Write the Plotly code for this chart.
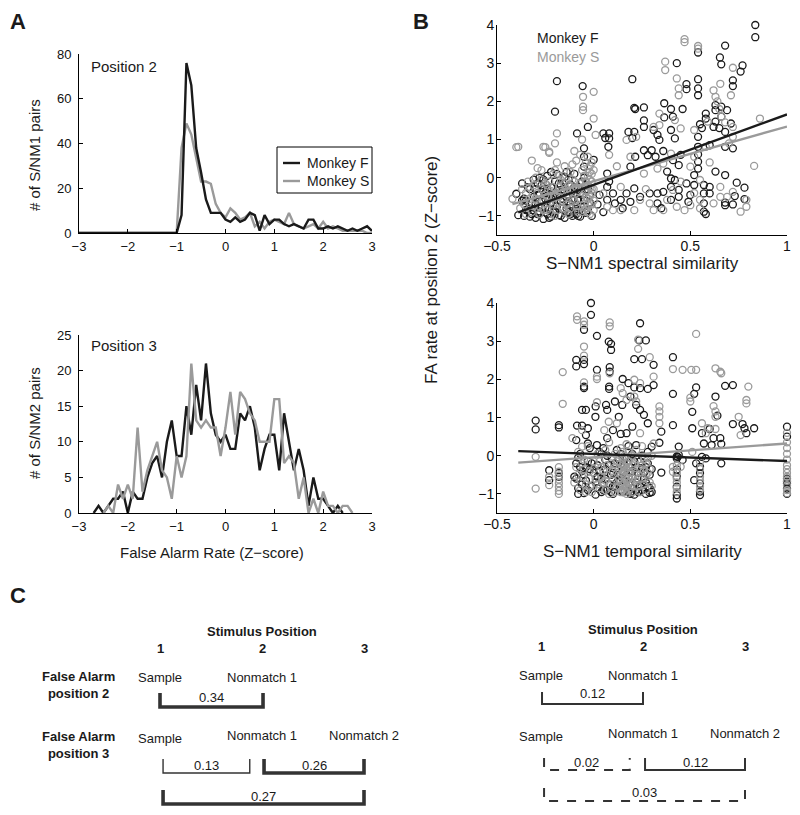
import plotly.graph_objects as go

W, H = 800, 815
FONT = "Liberation Sans, Arial, Helvetica, sans-serif"
BLACK = "#1a1a1a"
GRAY = "#9a9a9a"


def px(x):
    return x / W


def py(y):
    return 1 - y / H


# ---------------- Panel A : histograms of false-alarm rate ----------------
bins = [-3.0, -2.9, -2.8, -2.7, -2.6, -2.5, -2.4, -2.3, -2.2, -2.1,
        -2.0, -1.9, -1.8, -1.7, -1.6, -1.5, -1.4, -1.3, -1.2, -1.1,
        -1.0, -0.9, -0.8, -0.7, -0.6, -0.5, -0.4, -0.3, -0.2, -0.1,
        0.0, 0.1, 0.2, 0.3, 0.4, 0.5, 0.6, 0.7, 0.8, 0.9,
        1.0, 1.1, 1.2, 1.3, 1.4, 1.5, 1.6, 1.7, 1.8, 1.9,
        2.0, 2.1, 2.2, 2.3, 2.4, 2.5, 2.6, 2.7, 2.8, 2.9, 3.0]

pos2_F = [0, 0, 0, 0, 0, 0, 0, 0, 0, 0,
          0, 0, 0, 0, 0, 0, 0, 0, 0, 0,
          0, 8, 76, 66, 38, 27, 15, 9, 9, 9,
          6, 5, 7, 5, 6, 9, 8, 1, 8, 4,
          6, 6, 4, 3, 4, 3, 2, 6, 6, 2,
          2, 3, 2, 3, 2, 1, 2, 1, 2, 3, 1]
pos2_S = [0, 0, 0, 0, 0, 0, 0, 0, 0, 0,
          0, 0, 0, 0, 0, 0, 0, 0, 0, 0,
          0, 38, 49, 44, 33, 23, 23, 22, 13, 9,
          7, 11, 9, 6, 7, 9, 3, 5, 2, 5,
          6, 5, 4, 9, 4, 3, 2, 3, 4, 2,
          5, 2, 3, 2, 1, 1, 1, 1, 1, 0, 0]
pos3_F = [0, 0, 0, 0, 1, 0, 1, 2, 2, 3,
          0, 3, 2, 2, 5, 7, 8, 5, 10, 13,
          8, 8, 15, 11, 18, 13, 21, 14, 11, 10,
          11, 9, 9, 14, 13, 15, 12, 6, 9, 11,
          11, 6, 14, 10, 6, 9, 6, 1, 5, 2,
          2, 1, 0, 1, 0, 0, 0, 0, 0, 0, 0]
pos3_S = [0, 0, 0, 0, 0, 0, 1, 0, 4, 2,
          4, 2, 12, 3, 6, 8, 10, 6, 5, 2,
          8, 5, 8, 21, 13, 12, 13, 12, 12, 8,
          12, 17, 11, 17, 16, 14, 13, 10, 10, 10,
          16, 16, 7, 8, 7, 2, 5, 0, 2, 0,
          3, 1, 1, 0, 1, 1, 0, 0, 0, 0, 0]

# ---------------- Panel B : scatter data (x similarity, FA z-score) ----------------
spec_F = [
    (-0.40, -0.42), (-0.39, -0.98), (-0.37, -0.15), (-0.36, -1.00), (-0.35, -0.60), (-0.34, -0.82),
    (-0.33, -0.30), (-0.32, -0.95), (-0.31, -0.05), (-0.30, -0.70), (-0.30, -1.05), (-0.29, -0.45),
    (-0.28, 0.00), (-0.28, -0.88), (-0.27, -0.20), (-0.27, -0.62), (-0.26, -1.08), (-0.25, -0.40),
    (-0.25, -0.78), (-0.24, 0.05), (-0.24, -0.95), (-0.23, -0.55), (-0.22, -0.25), (-0.22, -1.02),
    (-0.21, -0.70), (-0.20, -0.10), (-0.20, -0.88), (-0.19, 0.10), (-0.19, -0.45), (-0.18, -0.98),
    (-0.17, -0.62), (-0.16, -0.30), (-0.16, -0.80), (-0.15, 0.02), (-0.15, -1.05), (-0.14, -0.50),
    (-0.13, -0.90), (-0.12, -0.18), (-0.12, -0.70), (-0.11, -1.00), (-0.10, -0.40), (-0.10, 0.10),
    (-0.09, -0.82), (-0.08, -0.60), (-0.08, -0.25), (-0.07, -1.02), (-0.06, -0.45), (-0.05, 0.00),
    (-0.05, -0.75), (-0.04, -0.92), (-0.03, -0.30), (-0.02, -0.65), (-0.01, -1.00), (-0.26, -0.32),
    (-0.21, -0.50), (-0.17, -0.20), (-0.13, -0.62), (-0.09, -0.95), (-0.31, -0.85), (-0.23, -0.82),
    (-0.36, -0.55), (-0.34, -0.25), (-0.33, -1.02), (-0.31, -0.50), (-0.29, -0.15), (-0.29, -0.95),
    (-0.27, -0.78), (-0.26, -0.05), (-0.25, -0.55), (-0.24, -0.30), (-0.23, -1.05), (-0.22, -0.65),
    (-0.21, -0.90), (-0.20, -0.40), (-0.19, -0.75), (-0.18, -0.15), (-0.17, -1.00), (-0.16, -0.55),
    (-0.15, -0.35), (-0.14, -0.80), (-0.13, -0.05), (-0.12, -0.95), (-0.11, -0.60), (-0.10, -0.25),
    (-0.09, -0.70), (-0.08, -1.00), (-0.07, -0.40), (-0.06, -0.10), (-0.05, -0.60), (-0.04, -0.20),
    (-0.03, -0.85), (-0.02, -0.45), (-0.28, -0.45), (-0.30, -0.30), (-0.32, -0.65), (-0.35, -0.85),
    (-0.37, -0.60), (-0.14, 0.15), (-0.22, 0.15), (-0.11, -0.35),
    (0.836, 4.00), (0.836, 3.68), (-0.19, 2.53), (-0.057, 2.40), (0.20, 2.58), (0.43, 3.00),
    (0.54, 3.28), (0.54, 2.58), (0.54, 2.34), (0.54, 2.16), (0.653, 3.15), (0.68, 3.46),
    (0.66, 2.97), (0.72, 2.55), (0.72, 2.40), (0.77, 2.94), (0.76, 2.78), (0.48, 2.45),
    (0.48, 2.32), (-0.20, 1.73), (0.215, 1.80), (0.26, 1.84), (0.26, 1.50), (0.26, 1.33),
    (0.365, 1.58), (0.365, 1.95), (0.40, 1.80), (0.41, 1.60), (0.46, 1.80), (0.21, 1.20),
    (0.08, 1.16), (0.08, 1.03), (0.05, 1.16), (0.076, 0.81), (-0.086, 1.16), (-0.03, 1.33),
    (0.31, 1.25), (0.33, 1.12), (0.34, 0.99), (0.40, 1.25), (0.42, 1.03), (0.54, 1.07),
    (0.54, 0.81), (0.54, 0.61), (0.54, 0.42), (0.54, 0.24), (0.58, 1.68), (0.58, 1.55),
    (0.62, 1.33), (0.63, 1.47), (0.63, 1.77), (0.66, 1.86), (0.66, 1.60), (0.69, 1.77),
    (0.71, 1.42), (0.68, 0.81), (0.72, 0.77), (-0.05, 0.77), (-0.05, 0.55), (-0.05, 0.29),
    (0.63, 0.16), (0.68, 0.07), (0.74, -0.13), (0.78, -0.26), (0.78, -0.56), (0.73, -0.48),
    (0.68, -0.65), (0.68, -0.72), (0.60, -0.24), (0.60, -0.41), (0.57, -0.19), (0.57, -0.41),
    (0.57, -0.67), (0.57, -0.89), (0.52, -0.19), (0.52, 0.07), (0.48, -0.15), (0.50, -0.45),
    (0.49, -0.63), (0.44, 0.33), (0.41, 0.46), (0.38, 0.16), (0.40, -0.02), (0.42, -0.06),
    (0.40, -0.24), (0.44, -0.32), (0.44, -0.50), (0.40, -0.58), (0.36, -0.37), (0.33, -0.41),
    (0.33, -0.67), (0.29, -0.41), (0.30, 0.72), (0.28, 0.59), (0.26, 0.72), (0.32, 0.55),
    (0.215, 0.55), (0.19, 0.29), (0.21, -0.28), (0.17, -0.41), (0.14, -0.58), (0.19, -0.63),
    (0.07, 0.11), (0.07, -0.24), (0.08, -0.10), (0.03, -0.45), (0.07, -0.58), (0.11, -0.67),
    (0.10, -0.41), (0.06, 1.04), (0.20, 1.04), (0.18, 1.20), (0.21, 1.83), (0.00, 0.47),
    (0.36, 0.70), (0.45, 0.60), (0.60, 0.85), (0.58, -0.95), (0.72, -0.70), (0.35, -0.80),
    (0.24, -0.50), (0.15, -0.80), (0.05, -0.90), (0.02, -0.70), (0.55, 1.40), (0.56, 1.30),
    (0.63, 1.90), (0.65, 1.30), (0.68, 1.20),
]
spec_S = [
    (-0.42, -0.55), (-0.40, 0.80), (-0.38, -0.80), (-0.37, -0.30), (-0.35, -0.95), (-0.34, -0.10),
    (-0.33, -0.55), (-0.32, 0.45), (-0.31, -0.75), (-0.30, 0.00), (-0.29, -0.40), (-0.28, -0.95),
    (-0.27, 0.20), (-0.26, -0.60), (-0.25, 0.80), (-0.25, -0.15), (-0.24, -0.85), (-0.23, 0.65),
    (-0.22, -0.35), (-0.21, 0.10), (-0.21, -0.70), (-0.20, -1.00), (-0.19, 0.40), (-0.18, -0.50),
    (-0.17, -0.05), (-0.16, -0.80), (-0.15, 0.30), (-0.14, -0.30), (-0.13, -0.95), (-0.12, 0.15),
    (-0.11, -0.55), (-0.10, -0.10), (-0.09, 0.45), (-0.09, -0.75), (-0.08, -0.35), (-0.07, 0.60),
    (-0.06, -0.90), (-0.05, 0.05), (-0.04, -0.50), (-0.03, -0.70), (-0.03, -0.20), (-0.02, 0.30),
    (-0.02, -0.95), (-0.01, -0.40), (-0.01, 0.10), (0.00, -0.60), (0.00, -0.85), (-0.03, 0.55),
    (-0.02, -0.05), (-0.01, -0.30), (-0.04, -0.80), (-0.27, -0.30), (-0.23, -0.10), (-0.19, -0.65),
    (-0.16, 0.05), (-0.13, -0.20), (-0.29, 0.25), (-0.33, -0.25), (-0.11, 0.35), (-0.07, -0.15),
    (-0.36, -0.70), (-0.35, -0.40), (-0.32, -0.90), (-0.31, -0.20), (-0.30, -0.55), (-0.28, -0.75),
    (-0.27, -0.05), (-0.26, -0.85), (-0.25, -0.45), (-0.24, -0.20), (-0.23, -0.65), (-0.22, -0.95),
    (-0.21, -0.25), (-0.20, -0.50), (-0.19, -0.85), (-0.18, 0.05), (-0.17, -0.35), (-0.16, -0.60),
    (-0.15, -0.15), (-0.14, -0.70), (-0.13, -0.45), (-0.12, -0.80), (-0.11, -0.05), (-0.10, -0.60),
    (-0.09, -0.25), (-0.08, -0.90), (-0.07, -0.55), (-0.06, 0.20), (-0.06, -0.30), (-0.05, -0.70),
    (-0.04, -0.10), (-0.04, 0.40), (-0.03, -0.55), (-0.03, -0.90), (-0.02, -0.25), (-0.02, 0.15),
    (-0.01, -0.70), (-0.01, -0.10), (0.00, -0.30), (0.00, 0.20), (-0.03, 0.05), (-0.02, -0.50),
    (-0.01, 0.40), (-0.04, -0.35), (-0.05, -0.85), (-0.12, -0.35), (-0.18, -0.25), (-0.24, -0.50),
    (-0.20, 0.20), (-0.15, -0.90),
    (0.47, 3.63), (0.47, 3.55), (0.54, 3.45), (0.54, 3.38), (0.37, 3.04), (0.37, 2.82),
    (0.43, 2.60), (0.44, 2.34), (0.44, 2.16), (-0.055, 2.12), (0.00, 2.25), (-0.055, 1.86),
    (-0.055, 1.77), (0.62, 2.29), (0.63, 2.12), (0.655, 2.46), (0.71, 2.16), (0.72, 2.88),
    (0.64, 2.00), (0.65, 1.80), (-0.19, 1.16), (-0.20, 0.90), (-0.26, 0.81), (-0.23, 0.68),
    (-0.39, 0.81), (0.00, 1.55), (0.01, 1.12), (0.34, 1.68), (0.34, 1.38), (0.31, 1.33),
    (0.42, 1.51), (0.45, 1.29), (0.52, 1.25), (0.58, 0.81), (0.59, 1.47), (0.72, 1.33),
    (0.72, 1.07), (0.86, 1.55), (0.83, 0.31), (0.55, -0.06), (0.55, -0.58), (0.55, -0.80),
    (0.50, -0.72), (0.47, -0.85), (0.52, -0.40), (0.655, -0.50), (0.69, -0.50), (0.72, -0.37),
    (0.79, -0.76), (0.76, -0.89), (0.79, -0.58), (0.655, -0.24), (0.62, -0.67), (0.31, -0.85),
    (0.29, -0.67), (0.24, -0.58), (0.21, -0.85), (0.14, -0.85), (0.10, -0.85), (0.07, -0.76),
    (0.05, -0.41), (0.14, -0.24), (0.19, 0.55), (0.22, 1.07), (0.17, 0.99), (0.26, 0.11),
    (0.33, 0.24), (0.36, 0.37), (0.40, 0.63), (0.41, -0.32), (0.38, -0.58), (0.43, -0.76),
    (0.36, -0.85), (0.50, 0.29), (0.52, 0.55), (0.08, 0.60), (0.12, 0.30), (0.27, -0.30),
    (0.45, -0.10), (0.60, 0.40), (0.66, 1.60), (0.68, 1.45), (0.70, 0.90), (-0.06, 1.00),
    (-0.10, 0.70),
]
temp_F = [
    (-0.30, 0.92), (-0.30, 0.69), (-0.23, -0.38), (-0.23, -0.64), (-0.18, 0.80), (-0.18, 0.74),
    (-0.18, -0.45), (-0.18, -0.55),
    (-0.014, 4.00), (-0.014, 3.69), (-0.05, 3.30), (0.017, 3.14), (0.078, 2.99), (0.09, 2.93),
    (0.09, 2.77), (0.24, 3.47), (0.27, 3.02), (0.236, 3.02), (0.25, 2.53), (0.21, 2.53),
    (0.31, 2.38), (-0.09, 2.51), (-0.09, 2.34), (-0.05, 2.51), (-0.05, 2.40), (0.017, 2.25),
    (0.083, 2.32), (0.083, 2.20), (0.41, 2.58), (-0.05, 1.81), (-0.05, 1.77), (0.08, 1.81),
    (0.08, 1.75), (0.15, 2.01), (0.18, 1.90), (0.21, 1.79), (0.24, 1.77), (0.28, 1.75),
    (0.31, 1.85), (0.53, 1.79), (0.52, 1.62), (0.41, 1.62), (0.63, 1.55), (0.68, 1.83),
    (0.72, 1.85), (-0.04, 1.20), (-0.06, 1.20), (0.01, 1.29), (0.009, 1.02), (0.064, 1.33),
    (0.11, 1.42), (0.148, 1.33), (0.19, 1.55), (0.22, 1.33), (0.24, 1.20), (0.26, 1.07),
    (0.28, 0.85), (0.13, 1.02), (0.07, 1.20), (0.64, 1.05), (0.60, 0.70), (0.41, 0.80),
    (0.51, 1.15), (0.51, 0.72), (-0.086, 0.79), (-0.06, 0.79), (-0.03, 0.72), (-0.04, 0.54),
    (-0.09, 0.41), (-0.03, 0.32), (0.017, 0.28), (0.07, 0.46), (0.10, 0.67), (0.14, 0.57),
    (0.17, 0.59), (0.20, 0.76), (0.35, 0.63), (0.34, 0.34), (0.30, 0.24), (0.22, 0.28),
    (0.61, 0.28), (0.56, 0.59), (0.57, 0.32), (0.62, 0.46), (0.655, 0.46), (0.66, 0.31),
    (0.77, 0.83), (0.78, 0.72), (0.79, 0.59), (0.83, 0.72), (0.72, 0.83), (0.44, 0.24),
    (0.44, 0.02), (0.43, -0.07), (0.435, -0.03), (0.43, -0.02), (0.46, -0.11), (0.56, -0.03),
    (0.58, -0.07), (0.53, -0.20), (0.66, -0.20), (0.52, -0.64), (0.43, -0.36), (0.43, -0.55),
    (0.43, -0.81), (0.43, -1.03), (0.43, -1.12), (0.55, -0.29), (0.55, -0.46), (0.55, -0.73),
    (0.55, -0.94), (0.55, -1.03), (1.00, 0.76), (1.00, 0.50), (1.00, -0.60), (1.00, -0.73),
    (1.00, -0.86), (1.00, -1.00), (1.00, -0.68), (0.35, -0.44), (-0.08, -1.00), (0.29, -0.97),
    (0.19, -1.00),
    (-0.10, -0.55), (-0.09, -0.20), (-0.08, -0.85), (-0.07, 0.05), (-0.06, -0.40), (-0.05, -0.98),
    (-0.04, -0.65), (-0.03, -0.15), (-0.02, 0.20), (-0.01, -0.80), (0.00, -0.45), (0.01, -1.02),
    (0.02, -0.25), (0.03, 0.10), (0.04, -0.60), (0.05, -0.90), (0.06, -0.35), (0.07, 0.00),
    (0.08, -0.75), (0.09, -0.50), (0.10, -1.00), (0.11, -0.20), (0.12, 0.15), (0.13, -0.65),
    (0.14, -0.90), (0.15, -0.40), (0.16, -0.05), (0.17, -0.80), (0.18, -0.55), (0.19, -0.30),
    (0.20, 0.05), (0.21, -1.02), (0.22, -0.70), (0.23, -0.45), (0.24, -0.15), (0.25, -0.90),
    (0.26, -0.60), (0.27, -0.30), (0.28, 0.10), (0.28, -0.80), (0.29, -0.50), (0.30, -0.95),
    (-0.06, -0.75), (0.02, -0.55), (0.06, -0.10), (0.11, -0.80), (0.16, -0.65), (0.20, -0.85),
    (0.25, -0.35), (0.13, -0.10), (-0.02, -0.35), (0.09, -0.95), (0.18, 0.25), (0.23, -0.95),
    (0.05, 0.20), (-0.08, -0.05),
    (-0.09, -0.60), (-0.07, -0.30), (-0.05, -0.50), (-0.03, -0.90), (-0.01, -0.20), (0.01, -0.70),
    (0.03, -0.40), (0.04, -0.95), (0.06, -0.60), (0.08, -0.25), (0.10, -0.45), (0.12, -0.70),
    (0.13, -0.35), (0.14, 0.05), (0.15, -0.95), (0.16, -0.25), (0.17, -0.50), (0.18, -0.75),
    (0.19, -0.95), (0.20, -0.40), (0.21, -0.15), (0.22, -0.90), (0.23, -0.60), (0.24, -0.80),
    (0.25, 0.00), (0.26, -0.45), (0.27, -0.70), (0.28, -0.20), (0.29, -0.85), (0.30, -0.35),
    (0.12, -0.50), (0.14, -0.25), (0.10, -0.80), (0.02, -0.85), (-0.04, -0.30), (0.07, -0.90),
    (0.27, -1.00), (0.17, -0.05), (0.22, -0.30), (0.04, 0.05),
]
temp_S = [
    (-0.086, 3.65), (-0.086, 3.56), (-0.05, 3.52), (-0.05, 3.43), (0.083, 3.49), (0.083, 3.39),
    (0.23, 3.04), (0.23, 2.80), (0.29, 2.58), (-0.05, 2.86), (-0.05, 2.62), (-0.16, 2.19),
    (0.017, 2.07), (0.017, 2.01), (0.083, 2.16), (0.21, 1.99), (0.24, 1.90), (0.31, 2.07),
    (0.41, 2.27), (0.46, 2.25), (0.505, 2.25), (0.53, 2.25), (0.53, 3.19), (0.63, 2.29),
    (0.655, 2.20), (0.66, 2.16), (0.80, 1.81), (0.79, 1.46), (0.79, 1.37), (-0.16, 1.36),
    (-0.05, 1.92), (0.017, 1.40), (0.14, 1.77), (0.15, 1.64), (0.17, 1.46), (0.21, 1.55),
    (0.22, 1.42), (0.34, 1.29), (0.34, 1.16), (0.34, 1.02), (0.34, 0.85), (0.50, 1.52),
    (0.50, 1.42), (0.62, 1.30), (0.63, 1.16), (0.63, 1.02), (0.63, 0.70), (0.76, 0.54),
    (0.75, 1.02), (0.56, 0.85), (0.59, 0.72), (0.58, 0.59), (0.078, 0.89), (0.055, 0.67),
    (0.12, 0.85), (0.24, 0.59), (0.31, 0.32), (-0.06, 0.67), (-0.06, 0.24), (-0.11, 0.46),
    (0.41, -0.29), (0.41, -0.42), (0.45, -0.29), (0.51, 0.10),
    (-0.30, -0.03), (-0.30, -0.86), (-0.23, -0.77), (-0.23, -0.55), (-0.18, -0.30), (-0.18, -0.42),
    (-0.18, -0.52), (-0.18, -0.62), (-0.18, -0.72), (-0.18, -0.82), (-0.18, -0.92), (-0.18, -1.00),
    (0.43, -0.25), (0.43, -0.45), (0.43, -0.60), (0.43, -0.70), (0.43, -0.85), (0.43, -0.95),
    (0.55, -0.15), (0.55, -0.35), (0.55, -0.55), (0.55, -0.65), (0.55, -0.80), (0.55, -0.90),
    (1.00, 0.60), (1.00, 0.35), (1.00, 0.20), (1.00, 0.05), (1.00, -0.10), (1.00, -0.25),
    (1.00, -0.35), (1.00, -0.45), (1.00, -0.55), (1.00, -0.65), (1.00, -0.78), (1.00, -0.90),
    (1.00, -0.98),
    (-0.10, -0.70), (-0.09, -0.30), (-0.08, 0.10), (-0.07, -0.90), (-0.06, -0.55), (-0.05, -0.10),
    (-0.04, -0.75), (-0.03, 0.25), (-0.02, -0.40), (-0.01, -0.95), (0.00, -0.15), (0.01, -0.60),
    (0.02, 0.05), (0.03, -0.85), (0.04, -0.30), (0.05, -0.70), (0.06, 0.15), (0.07, -0.50),
    (0.08, -1.00), (0.09, -0.20), (0.10, -0.65), (0.11, 0.05), (0.12, -0.85), (0.13, -0.35),
    (0.13, -0.60), (0.14, 0.20), (0.14, -0.95), (0.15, -0.10), (0.15, -0.45), (0.15, -0.75),
    (0.16, 0.00), (0.16, -0.30), (0.16, -0.55), (0.16, -0.85), (0.17, -0.20), (0.17, -0.65),
    (0.17, -1.00), (0.18, 0.10), (0.18, -0.40), (0.18, -0.90), (0.19, -0.70), (0.20, -0.25),
    (0.21, -0.50), (0.22, 0.15), (0.23, -0.80), (0.24, -0.35), (0.25, -0.60), (0.26, -0.10),
    (0.27, -0.90), (0.28, -0.45), (0.29, -0.70), (0.30, 0.00), (-0.05, -0.35), (0.05, -0.40),
    (0.12, -0.15), (0.20, -0.95), (0.25, 0.25), (0.08, 0.35), (-0.02, -0.80), (0.27, -0.20),
    (-0.08, -0.50), (-0.06, -0.20), (-0.04, -0.95), (-0.02, -0.60), (0.00, -0.35), (0.02, -0.75),
    (0.03, -0.15), (0.04, -0.55), (0.06, -0.90), (0.07, -0.25), (0.09, -0.75), (0.10, -0.40),
    (0.11, -0.95), (0.12, -0.45), (0.13, -0.80), (0.13, -0.05), (0.14, -0.50), (0.14, -0.70),
    (0.15, -0.25), (0.15, -0.90), (0.16, -0.40), (0.16, -0.70), (0.17, -0.35), (0.17, -0.80),
    (0.18, -0.15), (0.18, -0.60), (0.19, -0.45), (0.19, -0.85), (0.20, -0.60), (0.21, -0.20),
    (0.21, -0.80), (0.22, -0.45), (0.23, -0.60), (0.24, -0.95), (0.25, -0.25), (0.26, -0.75),
    (0.27, -0.50), (0.28, -0.05), (0.29, -0.35), (0.30, -0.80), (0.26, -0.40), (0.23, -0.10),
    (0.11, -0.30), (0.06, -0.65), (0.15, 0.10), (0.17, 0.30), (0.14, -0.20), (0.16, -0.95),
    (0.18, -0.30), (0.20, 0.00),
]

# regression line end points
spec_fit_F = {"x": [-0.39, 1.0], "y": [-0.91, 1.66]}
spec_fit_S = {"x": [-0.42, 1.0], "y": [-0.69, 1.34]}
temp_fit_F = {"x": [-0.39, 1.0], "y": [0.12, -0.14]}
temp_fit_S = {"x": [-0.39, 1.0], "y": [-0.18, 0.32]}

# ---------------- Panel C : similarity between stimulus positions ----------------
stim_positions = [1, 2, 3]
bracket_pairs = [(1, 2), (1, 2), (2, 3), (1, 3)]
spectral_values = [0.34, 0.13, 0.26, 0.27]
temporal_values = [0.12, 0.02, 0.12, 0.03]

fig = go.Figure()


def add_hist(xs, ys, color, ax, ay, trim):
    if trim:
        nz = [i for i, v in enumerate(ys) if v > 0]
        lo, hi = max(nz[0] - 1, 0), min(nz[-1] + 1, len(ys) - 1)
        xs, ys = xs[lo:hi + 1], ys[lo:hi + 1]
    fig.add_trace(go.Scatter(x=xs, y=ys, mode="lines", line=dict(color=color, width=2.4),
                             xaxis=ax, yaxis=ay, showlegend=False, hoverinfo="skip"))


add_hist(bins, pos2_S, GRAY, "x", "y", False)
add_hist(bins, pos2_F, BLACK, "x", "y", False)
add_hist(bins, pos3_F, BLACK, "x2", "y2", True)
add_hist(bins, pos3_S, GRAY, "x2", "y2", True)


def add_scatter(pts, color, ax, ay):
    fig.add_trace(go.Scatter(x=[p[0] for p in pts], y=[p[1] for p in pts], mode="markers",
                             marker=dict(symbol="circle-open", size=7, color=color,
                                         line=dict(width=1.3, color=color)),
                             cliponaxis=False, xaxis=ax, yaxis=ay, showlegend=False,
                             hoverinfo="skip"))


def add_fit(fit, color, ax, ay):
    fig.add_trace(go.Scatter(x=fit["x"], y=fit["y"], mode="lines",
                             line=dict(color=color, width=2.4), xaxis=ax, yaxis=ay,
                             showlegend=False, hoverinfo="skip"))


add_scatter(spec_F, BLACK, "x3", "y3")
add_scatter(spec_S, GRAY, "x3", "y3")
add_fit(spec_fit_S, GRAY, "x3", "y3")
add_fit(spec_fit_F, BLACK, "x3", "y3")
add_scatter(temp_F, BLACK, "x4", "y4")
add_scatter(temp_S, GRAY, "x4", "y4")
add_fit(temp_fit_S, GRAY, "x4", "y4")
add_fit(temp_fit_F, BLACK, "x4", "y4")

# invisible traces to anchor panel C axes
for ax, ay in (("x5", "y5"), ("x6", "y6")):
    fig.add_trace(go.Scatter(x=stim_positions, y=[0, 0, 0], mode="markers",
                             marker=dict(opacity=0), xaxis=ax, yaxis=ay,
                             showlegend=False, hoverinfo="skip"))


def axstyle(domain, rng, tickvals, anchor, fs=13, standoff=0):
    return dict(domain=domain, range=rng, tickvals=tickvals, anchor=anchor,
                showline=True, linecolor="black", linewidth=1, ticks="inside",
                ticklen=4, tickwidth=1, tickcolor="black", showgrid=False, zeroline=False,
                tickfont=dict(family=FONT, size=fs, color="#111"), mirror=False,
                ticklabelstandoff=standoff, automargin=False)


hidden = dict(visible=False, showgrid=False, zeroline=False, automargin=False)

layout = dict(
    width=W, height=H, margin=dict(l=0, r=0, t=0, b=0, pad=0, autoexpand=False),
    paper_bgcolor="white", plot_bgcolor="white", showlegend=False,
    xaxis=axstyle([px(79), px(372)], [-3, 3], [-3, -2, -1, 0, 1, 2, 3], "y", 13, 1),
    yaxis=axstyle([py(233), py(54)], [0, 80], [0, 20, 40, 60, 80], "x", 13, 4),
    xaxis2=axstyle([px(79), px(372)], [-3, 3], [-3, -2, -1, 0, 1, 2, 3], "y2", 13, 1),
    yaxis2=axstyle([py(513), py(335)], [0, 25], [0, 5, 10, 15, 20, 25], "x2", 13, 4),
    xaxis3=axstyle([px(497), px(787)], [-0.5, 1], [-0.5, 0, 0.5, 1], "y3", 14, -2),
    yaxis3=axstyle([py(235), py(25)], [-1.5, 4], [-1, 0, 1, 2, 3, 4], "x3", 14, -1),
    xaxis4=axstyle([px(497), px(787)], [-0.5, 1], [-0.5, 0, 0.5, 1], "y4", 14, -2),
    yaxis4=axstyle([py(513), py(303)], [-1.5, 4], [-1, 0, 1, 2, 3, 4], "x4", 14, -1),
    xaxis5=dict(domain=[px(109), px(415)], range=[0.5, 3.5], anchor="y5", **hidden),
    yaxis5=dict(domain=[0, py(615)], range=[0, 1], anchor="x5", **hidden),
    xaxis6=dict(domain=[px(490), px(796)], range=[0.5, 3.5], anchor="y6", **hidden),
    yaxis6=dict(domain=[0, py(615)], range=[0, 1], anchor="x6", **hidden),
)

annotations = []
shapes = []


def ann(text, x, y, size=13, color=BLACK, bold=False, xref="paper", xanchor="center",
        angle=0):
    annotations.append(dict(
        text=f"<b>{text}</b>" if bold else text,
        x=px(x) if xref == "paper" else x, y=py(y), xref=xref, yref="paper",
        showarrow=False, xanchor=xanchor, yanchor="middle", textangle=angle,
        font=dict(family=FONT, size=size, color=color)))


# panel letters
ann("A", 18, 22, 22, bold=True)
ann("B", 421, 22, 22, bold=True)
ann("C", 18, 595, 22, bold=True)

# panel A texts
ann("Position 2", 89, 67, 15, xanchor="left")
ann("Position 3", 89, 345, 15, xanchor="left")
ann("# of S/NM1 pairs", 34, 155, 15, angle=-90)
ann("# of S/NM2 pairs", 34, 423, 15, angle=-90)
ann("False Alarm Rate (Z\u2212score)", 212, 552, 15)

# panel A legend box
shapes.append(dict(type="rect", xref="paper", yref="paper", x0=px(277), x1=px(372),
                   y0=py(193), y1=py(147), line=dict(color="black", width=1)))
for yy, col, name in ((163, BLACK, "Monkey F"), (181, GRAY, "Monkey S")):
    shapes.append(dict(type="line", xref="paper", yref="paper", x0=px(283), x1=px(300),
                       y0=py(yy), y1=py(yy), line=dict(color=col, width=2.4)))
    ann(name, 305, yy, 14, xanchor="left")

# panel B texts
ann("Monkey F", 535, 38, 14, BLACK, xanchor="left")
ann("Monkey S", 535, 57, 14, GRAY, xanchor="left")
ann("S\u2212NM1 spectral similarity", 642, 263, 17)
ann("S\u2212NM1 temporal similarity", 642, 551, 17)
ann("FA rate at position 2 (Z\u2212score)", 431, 270, 17, angle=-90)

# panel C
row_names = ["Sample", "Nonmatch 1", "Nonmatch 2"]


def panel_c(xref, values, widths, dashes, brk_rows, insets, label_dy, y_off):
    ann("Stimulus Position", 2, 631 + y_off, 13, bold=True, xref=xref)
    for p in stim_positions:
        ann(str(p), p, 648 + y_off, 13, bold=True, xref=xref)
    for i, name in enumerate(row_names[:2]):
        ann(name, stim_positions[i], 677 + y_off, 13, xref=xref)
    for i, name in enumerate(row_names):
        ann(name, stim_positions[i], (738 if i == 0 else 735) + y_off, 13, xref=xref)
    for k, ((a, b), v) in enumerate(zip(bracket_pairs, values)):
        top, bot = brk_rows[k]
        x0, x1 = a + insets[k][0], b + insets[k][1]
        path = f"M {x0},{py(top)} L {x0},{py(bot)} L {x1},{py(bot)} L {x1},{py(top)}"
        shapes.append(dict(type="path", xref=xref, yref="paper", path=path,
                           line=dict(color="#333", width=widths[k], dash=dashes[k])))
        ann(f"{v:.2f}", (x0 + x1) / 2, top + label_dy[k], 13, xref=xref)


panel_c("x5", spectral_values, [3.6, 1.4, 3.6, 3.6], ["solid"] * 4,
        [(693, 707), (759, 773), (759, 773), (790, 804)],
        [(0.0, 0.01), (0.03, -0.12), (0.02, 0.0), (0.03, 0.0)], [4, 6, 6, 6], 0)
panel_c("x6", temporal_values, [2.0, 2.0, 2.0, 2.0], ["solid", "dash", "solid", "dash"],
        [(692, 704), (758, 770), (758, 770), (788, 801)],
        [(0.01, 0.0), (0.03, -0.13), (0.02, 0.0), (0.03, 0.0)], [1, 4, 4, 4], -2)

ann("False Alarm<br>position 2", 78, 685, 13, bold=True)
ann("False Alarm<br>position 3", 78, 745, 13, bold=True)

layout["annotations"] = annotations
layout["shapes"] = shapes
fig.update_layout(**layout)
fig.write_html("out.html",
               config={"displayModeBar": False},
               post_script="document.body.style.margin='0';"
                           "document.body.style.overflow='hidden';")
